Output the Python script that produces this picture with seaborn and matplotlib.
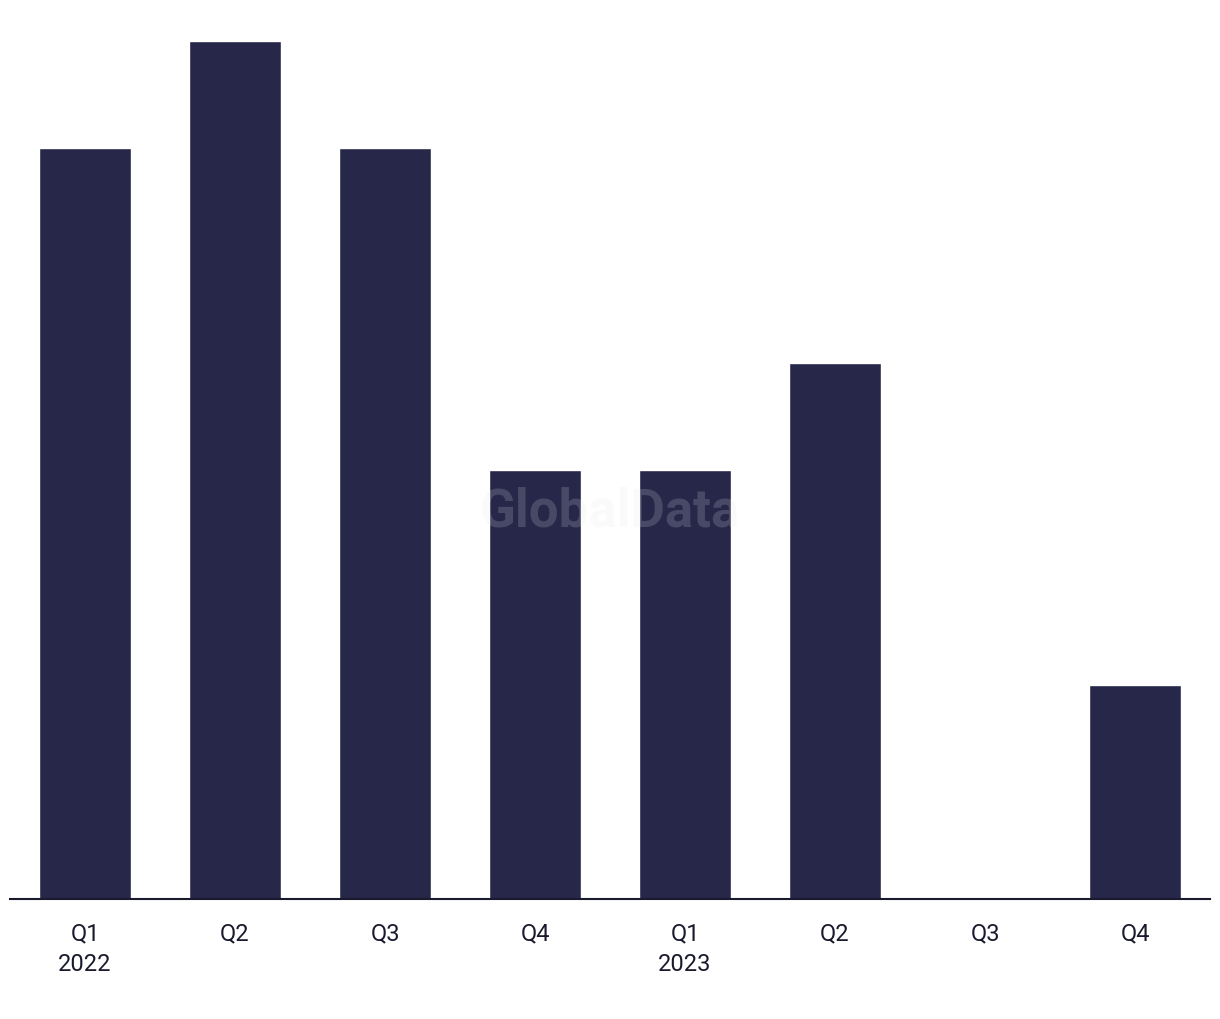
import matplotlib
matplotlib.use("Agg")
import matplotlib.pyplot as plt
import seaborn as sns
import pandas as pd

quarters = ["2022 Q1", "2022 Q2", "2022 Q3", "2022 Q4", "2023 Q1", "2023 Q2", "2023 Q3", "2023 Q4"]
tick_labels = ["Q1\n2022", "Q2", "Q3", "Q4", "Q1\n2023", "Q2", "Q3", "Q4"]
values = [7, 8, 7, 4, 4, 5, 0, 2]

sns.set_theme(style="white")
plt.rcParams['font.family'] = ['Roboto', 'DejaVu Sans']

df = pd.DataFrame({"quarter": quarters, "value": values})

fig = plt.figure(figsize=(12.2, 10.2), dpi=100)
ax = fig.add_axes([10/1220, 120/1020, 1200/1220, 858/1020])
sns.barplot(data=df, x="quarter", y="value", color="#27274a", width=0.61,
            saturation=1, ax=ax)
ax.set_xlim(-0.5, len(quarters) - 0.5)
ax.set_ylim(0, 8)
ax.set_xlabel("")
ax.set_ylabel("")
ax.set_yticks([])
ax.set_xticks(range(len(quarters)))
ax.set_xticklabels(tick_labels)
for s in ["top", "right", "left"]:
    ax.spines[s].set_visible(False)
ax.spines["bottom"].set_color("#1a1a2e")
ax.spines["bottom"].set_linewidth(1.5)
ax.tick_params(axis="x", length=0, pad=16, labelsize=17, labelcolor="#1a1a2e")
for lbl in ax.get_xticklabels():
    lbl.set_linespacing(1.45)

fig.text(610/1220, 1 - 512/1020, "GlobalData", ha="center", va="center",
         fontsize=38, fontweight="bold", color="#e8e8ec", alpha=0.18)

fig.savefig("out.png", dpi=100, facecolor="white")
